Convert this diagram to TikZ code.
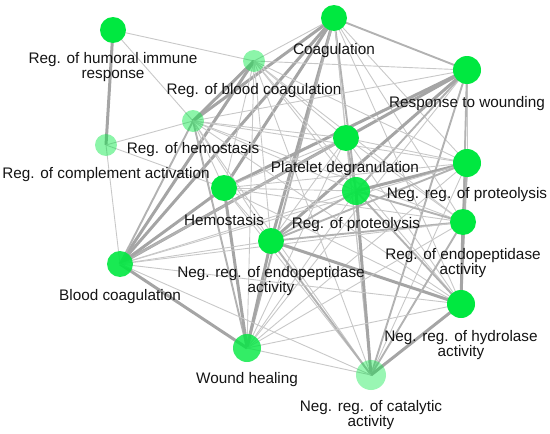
\documentclass[tikz,border=0pt]{standalone}
\usepackage{fontspec}
\setmainfont{Liberation Sans}
\definecolor{ngreen}{RGB}{0,232,64}
\definecolor{ethin}{RGB}{200,200,200}
\definecolor{emed}{RGB}{178,178,178}
\definecolor{ethick}{RGB}{165,165,165}
\tikzset{
  term/.style={circle,fill=ngreen,inner sep=0pt,minimum size=#1},
  faint/.style={fill opacity=0.45},
  mid/.style={fill opacity=0.8},
  lbl/.style={font=\fontsize{15.3}{15.5}\selectfont,align=center,inner sep=0pt,text=black!92},
  et/.style={draw=ethin,line width=0.9pt},
  em/.style={draw=emed,line width=1.9pt},
  eT/.style={draw=ethick,line width=3pt},
}
\begin{document}
\begin{tikzpicture}[x=1pt,y=-1pt]
\useasboundingbox (0,0) rectangle (550,434);
% node positions
\coordinate (HUMp) at (113,30);
\coordinate (COAGp) at (334,18);
\coordinate (RWp) at (467,70);
\coordinate (RBCp) at (254,61);
\coordinate (RHp) at (193,121);
\coordinate (RCAp) at (106,145);
\coordinate (PDp) at (346,138);
\coordinate (NRPp) at (467,163);
\coordinate (HEMp) at (224,188);
\coordinate (RPp) at (356,191);
\coordinate (NREp) at (271,241);
\coordinate (REAp) at (463,222);
\coordinate (BCp) at (120,264);
\coordinate (NRHp) at (461,304);
\coordinate (WHp) at (247,348);
\coordinate (NRCp) at (371,375);
% edges
\foreach \a/\b/\s in {
 HUM/RCA/eT, HUM/RBC/et, HUM/RH/et, RCA/RH/et, RCA/BC/et, RCA/HEM/et,
 COAG/RW/em, COAG/RBC/et, COAG/RH/eT, COAG/PD/et, COAG/NRP/et, COAG/HEM/eT, COAG/RP/em, COAG/NRE/eT, COAG/REA/et, COAG/BC/eT, COAG/NRH/et, COAG/WH/em, COAG/NRC/et,
 RW/RBC/et, RW/RH/et, RW/PD/et, RW/NRP/et, RW/HEM/eT, RW/RP/em, RW/NRE/eT, RW/REA/et, RW/BC/eT, RW/NRH/em, RW/WH/et, RW/NRC/em,
 RBC/RH/eT, RBC/PD/et, RBC/NRP/et, RBC/HEM/et, RBC/RP/et, RBC/NRE/et, RBC/REA/et, RBC/BC/eT, RBC/NRH/et, RBC/WH/et, RBC/NRC/et,
 RH/PD/et, RH/NRP/et, RH/HEM/et, RH/RP/et, RH/NRE/et, RH/REA/et, RH/BC/em, RH/NRH/et, RH/WH/em, RH/NRC/et,
 PD/NRP/et, PD/HEM/et, PD/RP/em, PD/NRE/et, PD/REA/et, PD/BC/em, PD/NRH/et, PD/WH/et, PD/NRC/et,
 NRP/HEM/et, NRP/RP/eT, NRP/NRE/em, NRP/REA/eT, NRP/BC/et, NRP/NRH/em, NRP/WH/et, NRP/NRC/et,
 HEM/RP/et, HEM/NRE/et, HEM/REA/et, HEM/BC/eT, HEM/NRH/et, HEM/WH/eT, HEM/NRC/et,
 RP/NRE/em, RP/REA/em, RP/BC/et, RP/NRH/em, RP/WH/et, RP/NRC/eT,
 NRE/REA/em, NRE/BC/et, NRE/NRH/eT, NRE/WH/eT, NRE/NRC/em,
 REA/BC/et, REA/NRH/eT, REA/WH/et, REA/NRC/em,
 BC/NRH/et, BC/WH/eT, BC/NRC/et,
 NRH/WH/et, NRH/NRC/eT,
 WH/NRC/et}
 { \draw[\s] (\a p) -- (\b p); }
% nodes
\node[term=26pt] (HUM) at (HUMp) {};
\node[term=26pt] (COAG) at (COAGp) {};
\node[term=28pt] (RW) at (RWp) {};
\node[term=22pt,faint] (RBC) at (RBCp) {};
\node[term=22pt,faint] (RH) at (RHp) {};
\node[term=22pt,faint] (RCA) at (RCAp) {};
\node[term=26pt] (PD) at (PDp) {};
\node[term=28pt] (NRP) at (NRPp) {};
\node[term=26pt] (HEM) at (HEMp) {};
\node[term=28pt,fill opacity=0.9] (RP) at (RPp) {};
\node[term=26pt] (NRE) at (NREp) {};
\node[term=26pt] (REA) at (REAp) {};
\node[term=26pt,fill opacity=0.9] (BC) at (BCp) {};
\node[term=28pt] (NRH) at (NRHp) {};
\node[term=28pt,mid] (WH) at (WHp) {};
\node[term=30pt,fill opacity=0.4] (NRC) at (NRCp) {};
% labels
\node[lbl] (lHUM) at (113,67) {Reg. of humoral immune\\response};
\node[lbl] (lRBC) at (254,91) {Reg. of blood coagulation};
\node[lbl] (lCOAG) at (334,51) {Coagulation};
\node[lbl] (lRW) at (467,104) {Response to wounding};
\node[lbl] (lRH) at (193,150) {Reg. of hemostasis};
\node[lbl] (lRCA) at (106,175) {Reg. of complement activation};
\node[lbl] (lPD) at (345,169) {Platelet degranulation};
\node[lbl] (lNRP) at (467,195) {Neg. reg. of proteolysis};
\node[lbl] (lHEM) at (224,220) {Hemostasis};
\node[lbl] (lRP) at (356,225) {Reg. of proteolysis};
\node[lbl] (lNRE) at (271,281) {Neg. reg. of endopeptidase\\activity};
\node[lbl] (lREA) at (463,263) {Reg. of endopeptidase\\activity};
\node[lbl] (lBC) at (120,297) {Blood coagulation};
\node[lbl] (lNRH) at (461,345) {Neg. reg. of hydrolase\\activity};
\node[lbl] (lWH) at (247,380) {Wound healing};
\node[lbl] (lNRC) at (371,415) {Neg. reg. of catalytic\\activity};
\end{tikzpicture}
\end{document}
